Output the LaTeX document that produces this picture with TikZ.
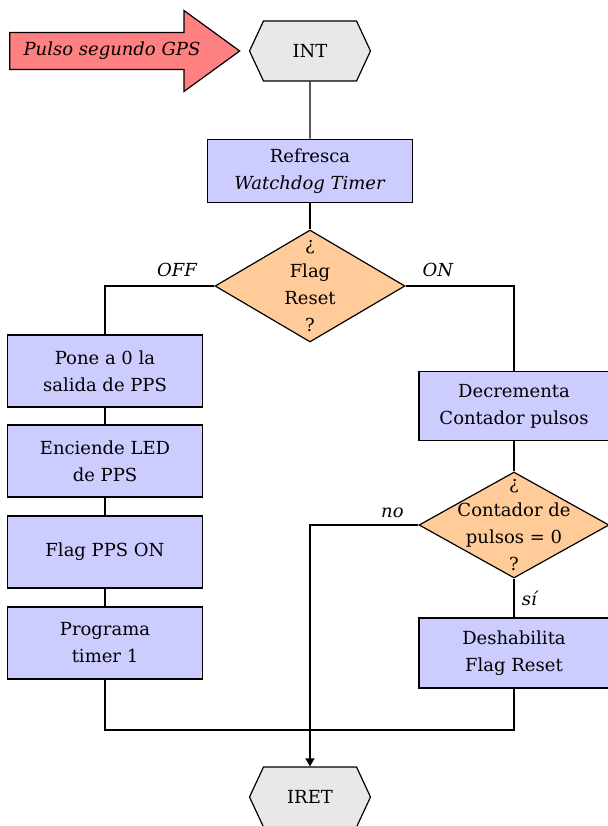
\documentclass[tikz,border=0pt]{standalone}
\usepackage{fontspec}
\setmainfont{DejaVu Serif}
\usetikzlibrary{shapes.geometric,shapes.symbols,shapes.arrows,arrows.meta}

\definecolor{procblue}{RGB}{204,204,255}
\definecolor{decorange}{RGB}{255,204,153}
\definecolor{termgray}{RGB}{232,232,232}
\definecolor{pulsered}{RGB}{255,128,128}

\begin{document}
\begin{tikzpicture}[x=1pt, y=-1pt, font=\fontsize{18}{27}\selectfont,
    proc/.style={rectangle, draw, line width=1.5pt, fill=procblue, minimum width=195, minimum height=72, align=center, inner sep=2pt},
    decis/.style={diamond, draw, line width=1.2pt, fill=decorange, minimum width=190, minimum height=112, inner sep=-40pt, align=center},
    term/.style={signal, signal to=west and east, signal pointer angle=130, draw, line width=1.2pt, fill=termgray, minimum width=121, minimum height=60, inner sep=0pt}]
    \useasboundingbox (0,0) rectangle (607,826);

    \node [single arrow, draw, line width=1.2pt, fill=pulsered, single arrow head extend=22, single arrow tip angle=72, minimum height=230, inner xsep=2pt, inner ysep=9pt] (gps) at (112,51) {\textit{Pulso segundo GPS}};

    \node [term] (int) at (310,51) {INT};
    \node [proc, minimum width=205, minimum height=63] (wdt) at (310,171) {Refresca\\\textit{Watchdog Timer}};
    \node [decis] (flag) at (310,286) {¿\\Flag\\Reset\\?};

    \begin{scope}[every node/.append style={proc}]
        \node (pps0) at (105,371) {Pone a 0 la\\salida de PPS};
        \node (led) at (105,461) {Enciende LED\\de PPS};
        \node (ppson) at (105,552) {Flag PPS ON};
        \node (tmr) at (105,643) {Programa\\timer 1};
        \node [minimum width=190, minimum height=69] (dec) at (514,406) {Decrementa\\Contador pulsos};
        \node [minimum width=190, minimum height=70] (dis) at (514,653) {Deshabilita\\Flag Reset};
    \end{scope}
    \node [decis, minimum height=106] (cnt) at (514,525) {¿\\Contador de\\pulsos = 0\\?};
    \node [term] (iret) at (310,797) {IRET};
    \coordinate (join) at (310,730);

    \begin{scope}[line width=1.3pt]
        \draw (int) -- (wdt);
        \draw (wdt) -- (flag);
        \draw (flag.west) -| node [pos=0.17, above=5pt] {\textit{OFF}} (pps0);
        \draw (flag.east) -| node [pos=0.15, above=5pt] {\textit{ON}} (dec);
        \draw (pps0) -- (led);
        \draw (led) -- (ppson);
        \draw (ppson) -- (tmr);
        \draw (dec) -- (cnt);
        \draw (cnt) -- node [right=4pt, pos=0.5] {\textit{sí}} (dis);
        \draw (tmr) |- (join) -| (dis);
        \draw [-{Triangle[width=9pt,length=8pt]}] (cnt.west) -| node [pos=0.12, above=3pt] {\textit{no}} (iret.north);
    \end{scope}
\end{tikzpicture}
\end{document}
